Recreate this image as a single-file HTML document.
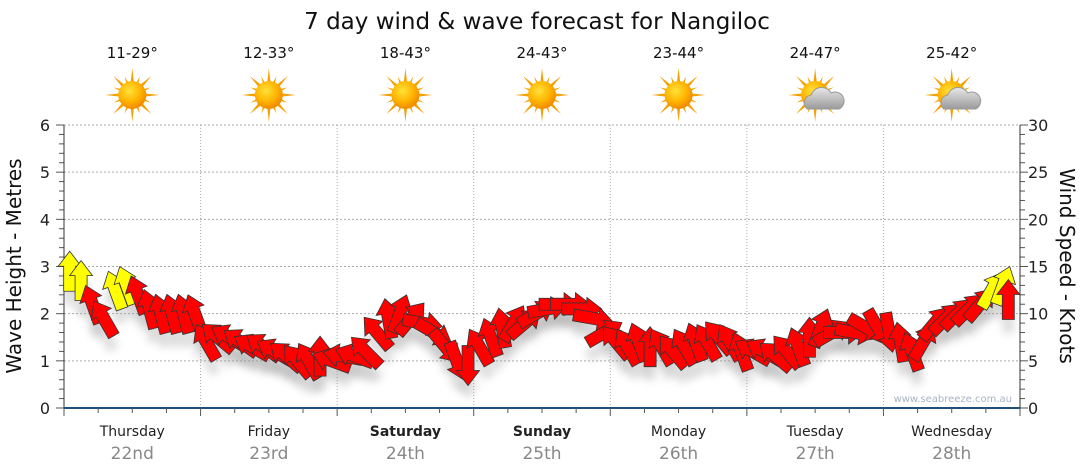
<!DOCTYPE html>
<html><head><meta charset="utf-8"><style>
body{margin:0;background:#fff;}
svg{display:block;font-family:"DejaVu Sans","Liberation Sans",sans-serif;}
</style></head><body>
<svg id="chart" width="1080" height="475" viewBox="0 0 1080 475">
<defs>
<filter id="sh" x="-50%" y="-50%" width="200%" height="200%"><feGaussianBlur stdDeviation="4"/></filter>
<radialGradient id="sun" cx="40%" cy="35%" r="65%"><stop offset="0" stop-color="#ffe23a"/><stop offset="0.6" stop-color="#ffb400"/><stop offset="1" stop-color="#f08a00"/></radialGradient>
<linearGradient id="cloud" x1="0" y1="0" x2="0" y2="1"><stop offset="0" stop-color="#e8e8e8"/><stop offset="1" stop-color="#9a9a9a"/></linearGradient>
</defs>
<text x="537" y="29" text-anchor="middle" font-size="23" fill="#111">7 day wind &amp; wave forecast for Nangiloc</text>
<g id="grid"></g><g id="axes"></g><g id="top"></g><g id="shadows"></g><g id="arrows"></g>
<text x="1012" y="402" text-anchor="end" font-size="10" fill="#a8b4c4">www.seabreeze.com.au</text>
<text transform="translate(21,266) rotate(-90)" text-anchor="middle" font-size="20" fill="#111">Wave Height - Metres</text>
<text transform="translate(1060,266) rotate(90)" text-anchor="middle" font-size="20" fill="#111">Wind Speed - Knots</text>
</svg>
<script>
const days=["Thursday","Friday","Saturday","Sunday","Monday","Tuesday","Wednesday"];
const dates=["22nd","23rd","24th","25th","26th","27th","28th"];
const temps=["11-29°","12-33°","18-43°","24-43°","23-44°","24-47°","25-42°"];
const cloudy=[false,false,false,false,false,true,true];
const waveTicks=[0,1,2,3,4,5,6];
const knotTicks=[0,5,10,15,20,25,30];
const speeds=[14.5,13.5,11,9.5,12.5,13,12,10.5,10,10,10,10,
7,7.5,7.5,7,6.5,6.5,6,5.5,5,5,5.5,5,
5.5,5.5,6,8,9.5,10,9.5,9,8,6.5,5,4.5,
6.5,7.5,8.5,9,9,10,10.5,11,11,10.5,9.5,8,
7,6.5,7,6.5,6.5,6,6.5,7,7,7.5,7,6,
6,6,5.5,6,6.5,7.5,8.5,8,8,8,8.5,8.5,
8,7,6,7,9,9.5,10,10.5,11,12.5,13,11.5];
const dirs=[0,0,-20,-30,-20,-20,-20,-15,-15,-15,-15,-20,
-30,-50,-60,-55,-60,-55,-60,-50,-40,-30,0,-70,
-80,-70,-45,-40,-10,20,40,100,120,140,160,180,
-30,-20,-10,30,50,60,80,90,90,90,100,60,
-40,-30,-20,0,-30,-40,-30,-20,-30,-40,-30,-20,
-60,-60,-50,-40,-20,0,20,60,90,100,120,150,
170,-10,-20,30,40,45,45,45,40,30,20,0];
const NS="http://www.w3.org/2000/svg";
const X0=64,X1=1020,YB=408,YT=125,DW=(X1-X0)/7;
const yW=v=>YB-(YB-YT)*v/6;
const yK=k=>YB-(YB-YT)*k/30;
const xT=i=>X0+DW*(i+0.5)/12+ (i>=83?-6:0);
function mk(t,a,p){const e=document.createElementNS(NS,t);for(const k in a)e.setAttribute(k,a[k]);(p||document.getElementById('chart')).appendChild(e);return e;}
const G=document.getElementById('grid'),A=document.getElementById('axes'),T=document.getElementById('top'),S=document.getElementById('shadows'),R=document.getElementById('arrows');
waveTicks.forEach(v=>{if(v>0){const l=mk('line',{x1:X0,x2:X1,y1:yW(v),y2:yW(v),stroke:'#aaa','stroke-dasharray':'2,2'},G);}
const t=mk('text',{x:50,y:yW(v)+6,'text-anchor':'end','font-size':16,fill:'#222'},A);t.textContent=v;
});
knotTicks.forEach(k=>{const t=mk('text',{x:1028,y:yK(k)+6,'font-size':16,fill:'#222'},A);t.textContent=k;
});
for(let i=0;i<=30;i++){const y=yW(i/5),w=i%5==0?8:5;mk('line',{x1:X0-w,x2:X0,y1:y,y2:y,stroke:'#555'},A);mk('line',{x1:X1,x2:X1+w,y1:y,y2:y,stroke:'#555'},A);}
mk('line',{x1:X0,x2:X0,y1:YT,y2:YB,stroke:'#333'},A);mk('line',{x1:X1,x2:X1,y1:YT,y2:YB,stroke:'#333'},A);
mk('line',{x1:X0,x2:X1,y1:YB,y2:YB,stroke:'#1f4e79','stroke-width':2},A);
for(let i=0;i<=28;i++){const x=X0+DW*i/4;mk('line',{x1:x,x2:x,y1:YB,y2:YB+(i%4==0?8:5),stroke:'#555'},A);}
days.forEach((d,i)=>{const cx=X0+DW*(i+0.5);
if(i>0){const l=mk('line',{x1:X0+DW*i,x2:X0+DW*i,y1:YT,y2:YB,stroke:'#aaa','stroke-dasharray':'1,2'},G);}
const t=mk('text',{x:cx,y:436,'text-anchor':'middle','font-size':14,fill:'#222','font-weight':(i==2||i==3)?'bold':'normal'},A);t.textContent=d;

const t2=mk('text',{x:cx,y:459,'text-anchor':'middle','font-size':17,fill:'#888'},A);t2.textContent=dates[i];

const t3=mk('text',{x:cx,y:58,'text-anchor':'middle','font-size':15,fill:'#111'},T);t3.textContent=temps[i];

const g=mk('g',{transform:`translate(${cx},95)`},T);

for(let r=0;r<16;r++){const a=r*22.5,L=r%2?20:27;mk('polygon',{points:`-3,0 3,0 0,-${L}`,fill:'#f5a000',transform:`rotate(${a})`},g);}
mk('circle',{r:14,fill:'url(#sun)'},g);
if(cloudy[i]){mk('path',{d:'M-8,14 a8,8 0 0 1 4,-14 a11,11 0 0 1 20,-2 a8,8 0 0 1 8,16 z',fill:'url(#cloud)',stroke:'#999'},g);}
});
const pts="0,-20 11.5,-5 6,-5 6,20 -6,20 -6,-5 -11.5,-5";
speeds.forEach((s,i)=>{const x=xT(i),y=yK(s);
const sh=mk('polygon',{points:pts,fill:'#999',opacity:0.3,filter:'url(#sh)',transform:`translate(${x},${y+14}) rotate(${dirs[i]})`},S);

const p=mk('polygon',{points:pts,fill:s>=12.5?'#ffff00':'#ff0000',stroke:'#333','stroke-width':0.8,transform:`translate(${x},${y}) rotate(${dirs[i]})`},R);
});
</script>
</body></html>
